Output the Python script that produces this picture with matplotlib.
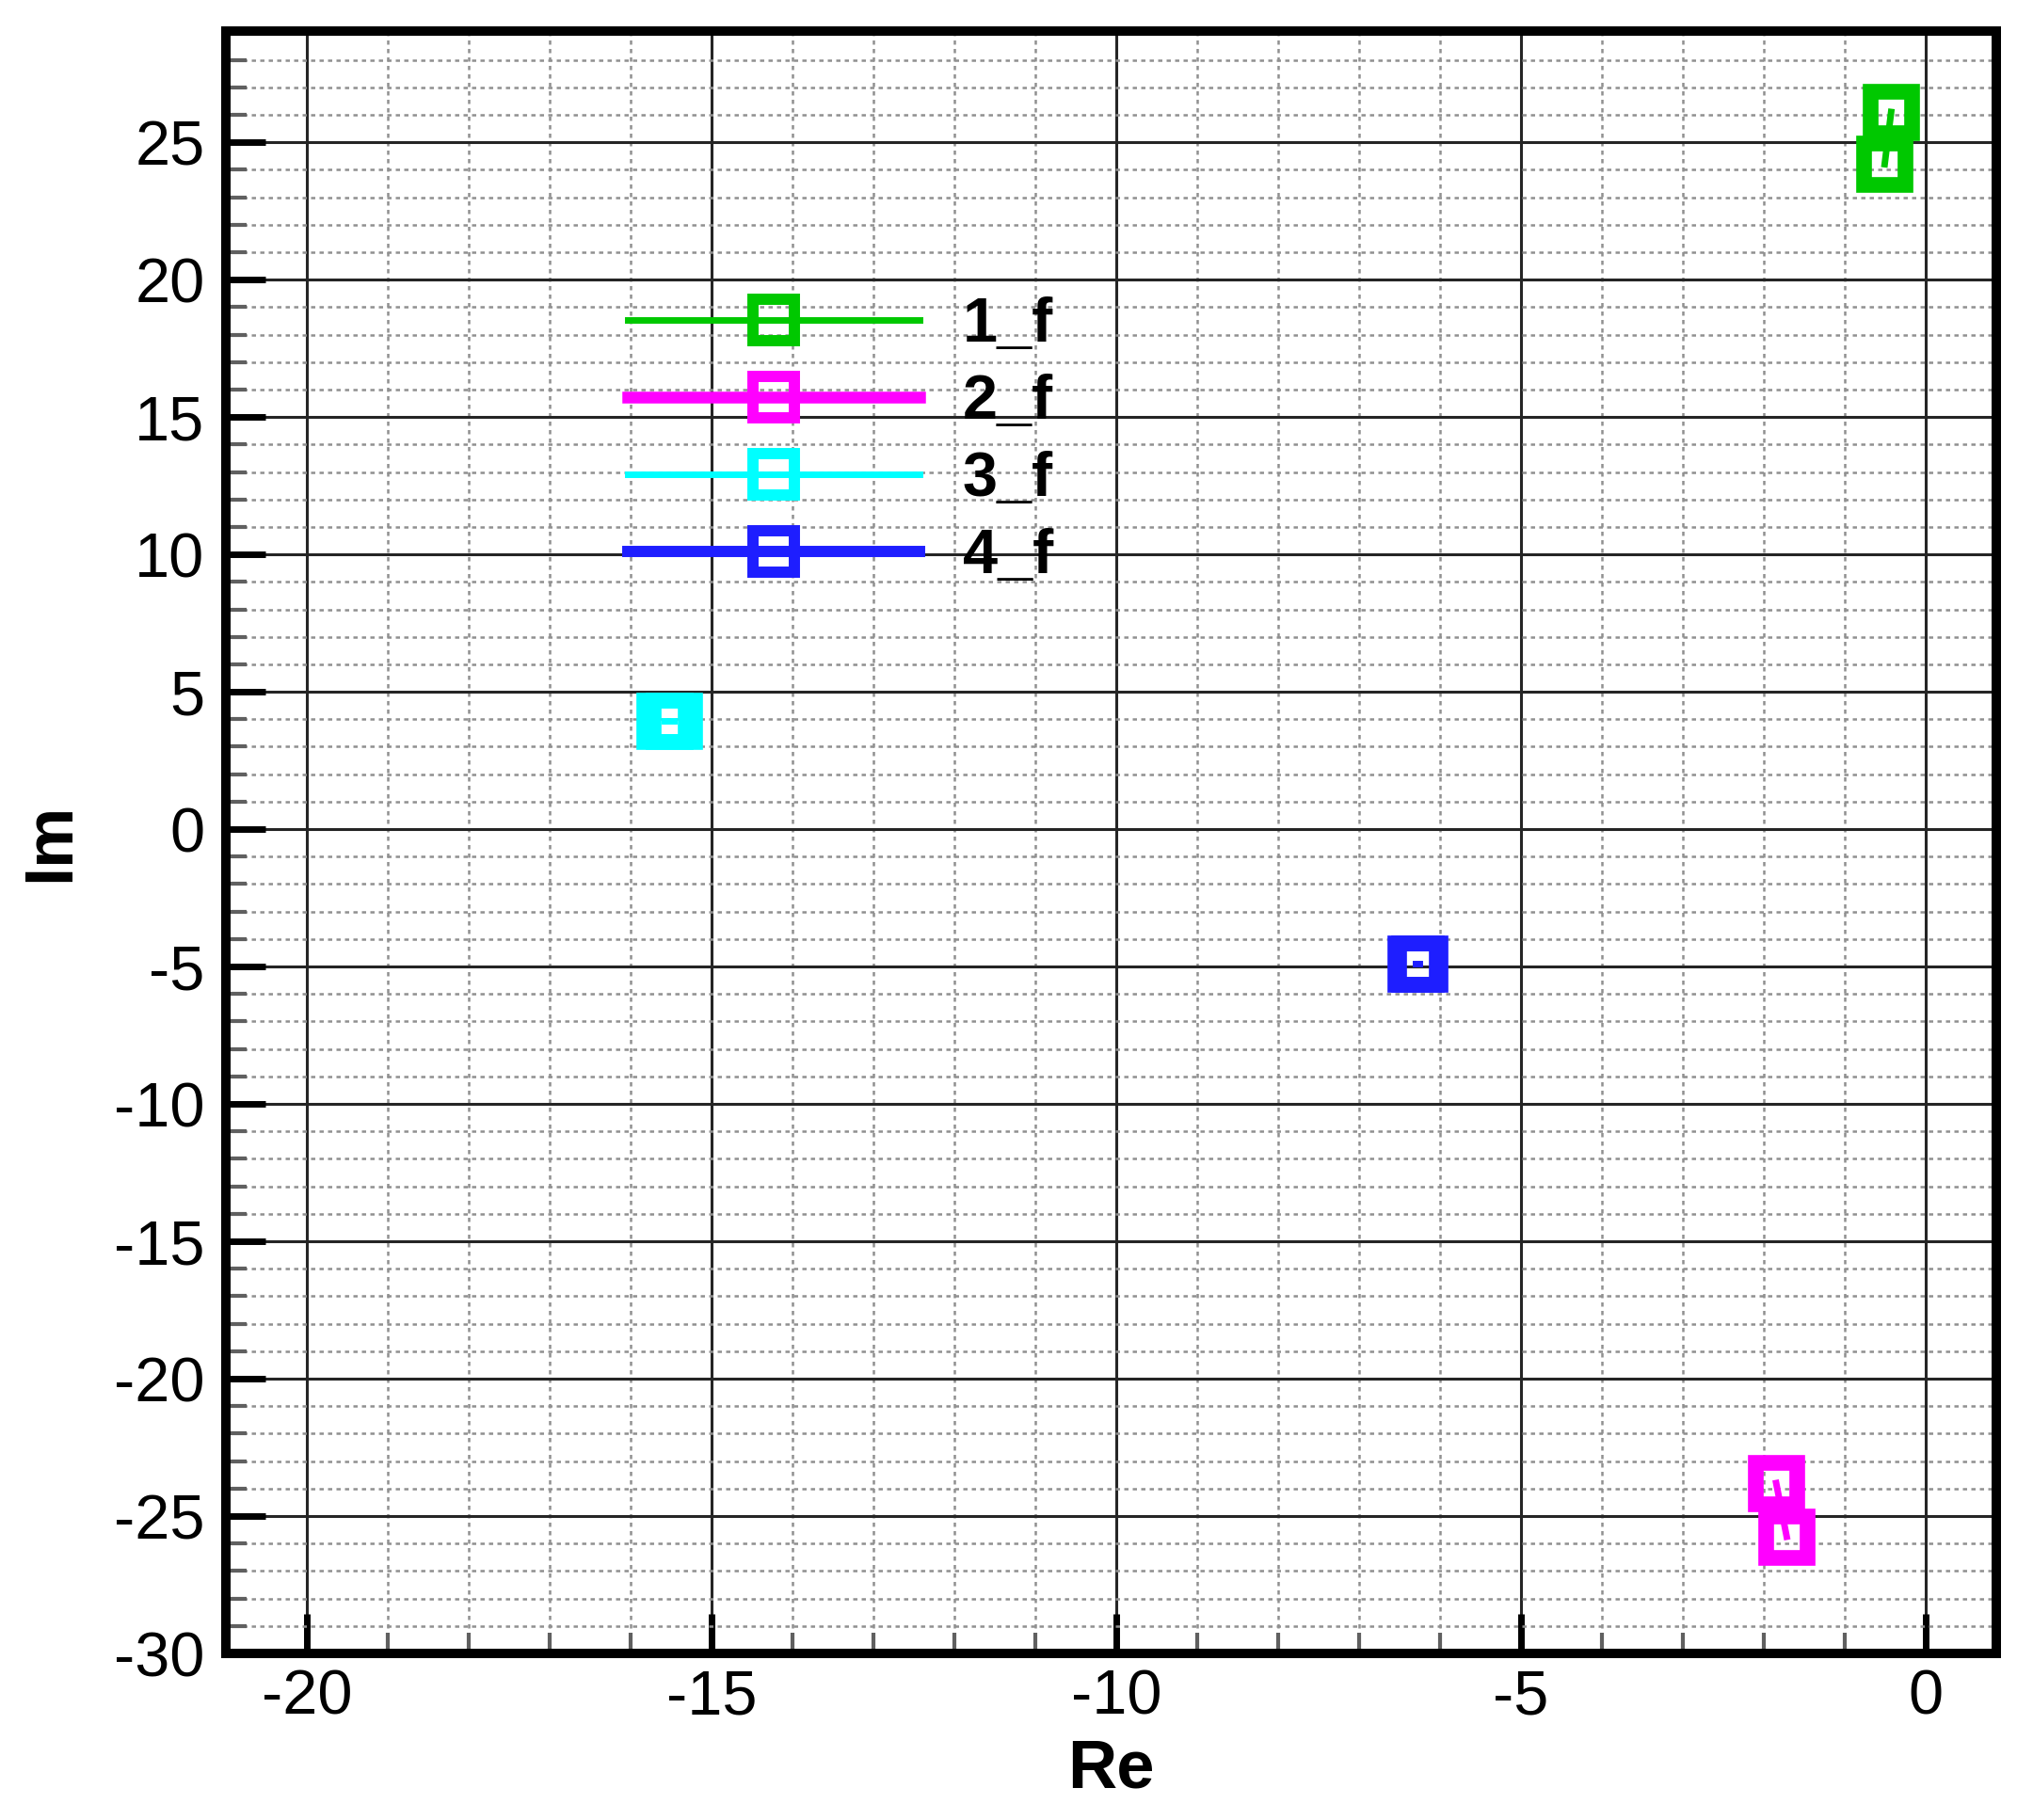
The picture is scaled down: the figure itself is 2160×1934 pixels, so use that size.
import numpy as np
import matplotlib
matplotlib.use('Agg')
import matplotlib.pyplot as plt
from matplotlib.lines import Line2D
from matplotlib.ticker import MultipleLocator

plt.rcParams['font.family'] = ['Liberation Sans', 'DejaVu Sans']
plt.rcParams['axes.unicode_minus'] = False

# ----------------------------------------------------------------------------
# data (Re, Im) for each mode
# ----------------------------------------------------------------------------
labels = ['1_f', '2_f', '3_f', '4_f']
re_1 = [-0.43, -0.51]
im_1 = [26.1, 24.2]
re_2 = [-1.85, -1.72]
im_2 = [-23.8, -25.75]
re_3 = [-15.58, -15.46]
im_3 = [3.94, 3.94]
re_4 = [-6.30, -6.26]
im_4 = [-4.9, -4.9]

colors = ['#00C800', '#FF00FF', '#00FFFF', '#1E1EFF']
lws = [2.5, 4.5, 2.5, 4.3]

series = [(re_1, im_1), (re_2, im_2), (re_3, im_3), (re_4, im_4)]

fig = plt.figure(figsize=(10.8, 9.67), dpi=200)
ax = fig.add_axes([0.111, 0.0915, 0.871, 0.8915])

for (xr, yi), c, lw in zip(series, colors, lws):
    ax.plot(xr, yi, '-', color=c, lw=min(lw, 2.5), marker='s', ms=16, mew=6,
            mfc='none', mec=c, zorder=5)

ax.set_xlim(-21.0, 0.87)
ax.set_ylim(-30.0, 29.05)

ax.xaxis.set_major_locator(MultipleLocator(5))
ax.xaxis.set_minor_locator(MultipleLocator(1))
ax.yaxis.set_major_locator(MultipleLocator(5))
ax.yaxis.set_minor_locator(MultipleLocator(1))

ax.grid(which='major', color='#252525', lw=1.1, ls='-')
ax.grid(which='minor', color='#909090', lw=0.9, ls=(0, (1.8, 1.8)))
ax.set_axisbelow(True)

ax.tick_params(which='major', direction='in', length=15, width=2.5,
               labelsize=24, pad=8, top=False, right=False)
ax.tick_params(which='minor', direction='in', length=8, width=1.5,
               color='#606060', top=False, right=False)
ax.tick_params(axis='x', which='major', pad=6)

for sp in ax.spines.values():
    sp.set_linewidth(3.6)

ax.set_xlabel('Re', fontsize=26, fontweight='bold', labelpad=4)
ax.set_ylabel('Im', fontsize=26, fontweight='bold', labelpad=12)

handles = [Line2D([], [], color=c, lw=lw, marker='s', ms=16, mew=4.3,
                  mfc='none', mec=c) for c, lw in zip(colors, lws)]
leg = ax.legend(handles, labels, loc='center left',
                bbox_to_anchor=(0.227, 0.747), frameon=False,
                borderpad=0, borderaxespad=0, handlelength=4.65,
                handletextpad=0.69, labelspacing=0.3,
                prop={'size': 24, 'weight': 'bold'})

fig.savefig('out.png', dpi=200)
